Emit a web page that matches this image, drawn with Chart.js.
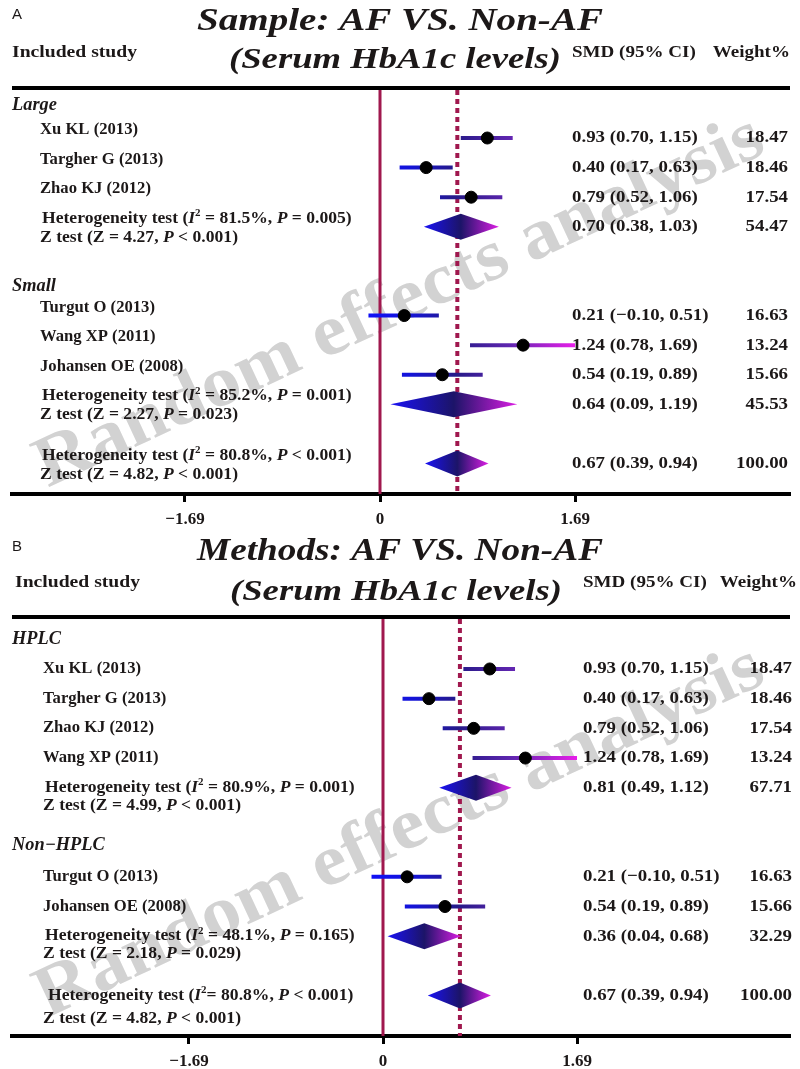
<!DOCTYPE html>
<html>
<head>
<meta charset="utf-8">
<script src="https://cdn.jsdelivr.net/npm/chart.js@4.4.0/dist/chart.umd.min.js"></script>
<style>
  html, body { margin: 0; padding: 0; background: #fff; }
  canvas { display: block; }
</style>
</head>
<body>
<canvas id="plotA" width="800" height="530"></canvas>
<canvas id="plotB" width="800" height="539"></canvas>
<script>
// ---------- panel A : by sample size ----------
const aStudies = ['Xu KL (2013)', 'Targher G (2013)', 'Zhao KJ (2012)', 'Turgut O (2013)', 'Wang XP (2011)', 'Johansen OE (2008)'];
const aSmd = [0.93, 0.40, 0.79, 0.21, 1.24, 0.54];
const aLow = [0.70, 0.17, 0.52, -0.10, 0.78, 0.19];
const aHigh = [1.15, 0.63, 1.06, 0.51, 1.69, 0.89];
const aWeight = [18.47, 18.46, 17.54, 16.63, 13.24, 15.66];
const aRows = [1, 2, 3, 7, 8, 9];
const aGroups = ['Large', 'Small'];
const aGroupRows = [-0.1, 6];
const aPoolSmd = [0.70, 0.64, 0.67];
const aPoolLow = [0.38, 0.09, 0.39];
const aPoolHigh = [1.03, 1.19, 0.94];
const aPoolWeight = [54.47, 45.53, 100.00];
const aPoolRows = [4, 10, 12];
const aI2 = ['81.5%', '85.2%', '80.8%'];
const aHetP = ['= 0.005', '= 0.001', '< 0.001'];
const aZ = ['4.27', '2.27', '4.82'];
const aZP = ['< 0.001', '= 0.023', '< 0.001'];

// ---------- panel B : by method ----------
const bStudies = ['Xu KL (2013)', 'Targher G (2013)', 'Zhao KJ (2012)', 'Wang XP (2011)', 'Turgut O (2013)', 'Johansen OE (2008)'];
const bSmd = [0.93, 0.40, 0.79, 1.24, 0.21, 0.54];
const bLow = [0.70, 0.17, 0.52, 0.78, -0.10, 0.19];
const bHigh = [1.15, 0.63, 1.06, 1.69, 0.51, 0.89];
const bWeight = [18.47, 18.46, 17.54, 13.24, 16.63, 15.66];
const bRows = [1, 2, 3, 4, 8, 9];
const bGroups = ['HPLC', 'Non\u2212HPLC'];
const bGroupRows = [0, 6.95];
const bPoolSmd = [0.81, 0.36, 0.67];
const bPoolLow = [0.49, 0.04, 0.39];
const bPoolHigh = [1.12, 0.68, 0.94];
const bPoolWeight = [67.71, 32.29, 100.00];
const bPoolRows = [5, 10, 12];
const bI2 = ['80.9%', '48.1%', '80.8%'];
const bHetP = ['= 0.001', '= 0.165', '< 0.001'];
const bZ = ['4.99', '2.18', '4.82'];
const bZP = ['< 0.001', '= 0.029', '< 0.001'];

const tickVals = [-1.69, 0, 1.69];

const SERIF = '"Liberation Serif", "Times New Roman", serif';
const INK = '#1c1818';
const RED = '#a0184e';

function fmt(v) {
  return (v < 0 ? '\u2212' : '') + Math.abs(v).toFixed(2);
}

// text with a horizontal stretch (the original face is wider than Times)
function st(ctx, s, x, y, font, sx, align) {
  ctx.font = font;
  ctx.save();
  ctx.translate(x, y);
  ctx.scale(sx, 1);
  ctx.textAlign = align || 'left';
  ctx.fillText(s, 0, 0);
  ctx.restore();
}

function drawFit(ctx, s, x, y, font, targetW, align) {
  ctx.font = font;
  const w = ctx.measureText(s).width;
  st(ctx, s, x, y, font, targetW ? targetW / w : 1, align);
}

// line made of bold / bold italic / superscript pieces
function rich(ctx, parts, x, y, size, sx) {
  let cx = x;
  parts.forEach(p => {
    let f = 'bold ' + size + 'px ' + SERIF;
    let dy = 0;
    if (p[1] === 'bi') f = 'italic bold ' + size + 'px ' + SERIF;
    if (p[1] === 'sup') { f = 'bold ' + Math.round(size * 0.6) + 'px ' + SERIF; dy = -size * 0.32; }
    st(ctx, p[0], cx, y + dy, f, sx, 'left');
    ctx.font = f;
    cx += ctx.measureText(p[0]).width * sx;
  });
}

function barColor(c) {
  const ch = c.chart;
  if (!ch.chartArea) return '#261a86';
  const x0 = ch.scales.x.getPixelForValue(-0.1);
  const x1 = ch.scales.x.getPixelForValue(1.7);
  const g = ch.ctx.createLinearGradient(x0, 0, x1, 0);
  g.addColorStop(0, '#1010f6');
  g.addColorStop(0.2, '#1414d8');
  g.addColorStop(0.42, '#261a88');
  g.addColorStop(0.68, '#6026b0');
  g.addColorStop(1, '#ea1eea');
  return g;
}

function makePanel(id, d, L) {
  const datasets = [];
  d.smd.forEach((v, i) => {
    datasets.push({
      type: 'line',
      data: [{ x: d.low[i], y: d.rows[i] }, { x: d.high[i], y: d.rows[i] }],
      borderColor: barColor,
      borderWidth: 4,
      pointRadius: 0,
      order: 2
    });
  });
  datasets.push({
    type: 'scatter',
    data: d.smd.map((v, i) => ({ x: v, y: d.rows[i] })),
    backgroundColor: '#000',
    borderColor: '#000',
    pointRadius: 6,
    order: 1
  });

  const BODY = 'bold 16px ' + SERIF;
  const NUM = 'bold 17px ' + SERIF;

  const forestText = {
    id: 'forestText',
    beforeDatasetsDraw(chart) {
      const { ctx, chartArea, scales } = chart;
      ctx.save();
      // watermark underneath everything
      ctx.save();
      ctx.translate(400, L.wmY);
      ctx.rotate(-25 * Math.PI / 180);
      ctx.fillStyle = '#d2d2d2';
      ctx.textBaseline = 'middle';
      drawFit(ctx, 'Random effects analysis', 0, 0, 'bold 72px ' + SERIF, 795, 'center');
      ctx.restore();

      // null line
      const x0 = scales.x.getPixelForValue(0);
      ctx.strokeStyle = RED;
      ctx.lineWidth = 3;
      ctx.beginPath();
      ctx.moveTo(x0, chartArea.top);
      ctx.lineTo(x0, chartArea.bottom);
      ctx.stroke();
      // overall effect line
      const xo = scales.x.getPixelForValue(d.poolSmd[d.poolSmd.length - 1]);
      ctx.lineWidth = 4;
      ctx.setLineDash([5, 4]);
      ctx.beginPath();
      ctx.moveTo(xo, chartArea.top + 2);
      ctx.lineTo(xo, chartArea.bottom);
      ctx.stroke();
      ctx.setLineDash([]);
      // header rule
      ctx.strokeStyle = '#000';
      ctx.lineWidth = 4;
      ctx.beginPath();
      ctx.moveTo(chartArea.left, chartArea.top);
      ctx.lineTo(chartArea.right, chartArea.top);
      ctx.stroke();
      ctx.restore();
    },
    afterDatasetsDraw(chart) {
      const { ctx, scales } = chart;
      const x = scales.x, y = scales.y;
      ctx.save();
      // pooled diamonds
      d.poolSmd.forEach((v, i) => {
        const xl = x.getPixelForValue(d.poolLow[i]);
        const xm = x.getPixelForValue(v);
        const xr = x.getPixelForValue(d.poolHigh[i]);
        const yc = y.getPixelForValue(d.poolRows[i]);
        const g = ctx.createLinearGradient(xl, 0, xr, 0);
        g.addColorStop(0, '#1a12f4');
        g.addColorStop((xm - xl) / (xr - xl), '#1c1468');
        g.addColorStop(1, '#dc1ee4');
        ctx.fillStyle = g;
        ctx.beginPath();
        ctx.moveTo(xl, yc);
        ctx.lineTo(xm, yc - 13);
        ctx.lineTo(xr, yc);
        ctx.lineTo(xm, yc + 13);
        ctx.closePath();
        ctx.fill();
      });

      ctx.fillStyle = INK;
      ctx.textBaseline = 'middle';
      // panel letter
      st(ctx, L.letter, 12, L.letterY, '15px "Liberation Sans", Arial, sans-serif', 1, 'left');
      // titles
      drawFit(ctx, L.title, 400, L.titleY, 'italic bold 31px ' + SERIF, 406, 'center');
      drawFit(ctx, '(Serum HbA1c levels)', L.subX, L.subY, 'italic bold 29px ' + SERIF, 332, 'center');
      // column headers
      drawFit(ctx, 'Included study', L.headX, L.headY, 'bold 17px ' + SERIF, 125, 'left');
      st(ctx, 'SMD (95% CI)', L.smdHeadX, L.headY, NUM, 1.12, 'left');
      st(ctx, 'Weight%', L.wHeadRight, L.headY, NUM, 1.12, 'right');

      // subgroup headings
      d.groups.forEach((gname, i) => {
        st(ctx, gname, 12, y.getPixelForValue(d.groupRows[i]), 'italic bold 18px ' + SERIF, 1.02, 'left');
      });
      // studies
      d.studies.forEach((s, i) => {
        const yy = y.getPixelForValue(d.rows[i]);
        st(ctx, s, L.nameX, yy + L.nameDy, BODY, 1.04, 'left');
        st(ctx, fmt(d.smd[i]) + ' (' + fmt(d.low[i]) + ', ' + fmt(d.high[i]) + ')', L.smdX, yy, NUM, 1.11, 'left');
        st(ctx, d.weight[i].toFixed(2), L.wRight, yy, NUM, 1.11, 'right');
      });
      // pooled rows
      d.poolSmd.forEach((v, i) => {
        const yy = y.getPixelForValue(d.poolRows[i]);
        const last = i === d.poolSmd.length - 1;
        const eq = (last && L.letter === 'B') ? '= ' : ' = ';
        rich(ctx, [['Heterogeneity test (', 'b'], ['I', 'bi'], ['2', 'sup'], [eq + d.i2[i] + ', ', 'b'], ['P', 'bi'], [' ' + d.hetP[i] + ')', 'b']],
          L.hetX + (last ? L.lastShift : 0), yy + L.hetDy, 16, 1.1);
        rich(ctx, [['Z test (Z = ' + d.z[i] + ', ', 'b'], ['P', 'bi'], [' ' + d.zP[i] + ')', 'b']],
          L.zX, yy + (last ? L.zDyLast : L.zDy), 16, 1.1);
        st(ctx, fmt(v) + ' (' + fmt(d.poolLow[i]) + ', ' + fmt(d.poolHigh[i]) + ')', L.smdX, yy, NUM, 1.11, 'left');
        st(ctx, d.poolWeight[i].toFixed(2), L.wRight, yy, NUM, 1.11, 'right');
      });
      ctx.restore();
    }
  };

  return new Chart(document.getElementById(id), {
    type: 'scatter',
    data: { datasets },
    options: {
      responsive: false,
      animation: false,
      layout: { padding: { left: 12, right: 10, top: L.topY, bottom: 0 } },
      plugins: { legend: { display: false }, tooltip: { enabled: false } },
      scales: {
        x: {
          type: 'linear',
          min: -(L.zeroX - 12) / L.unitPx,
          max: (790 - L.zeroX) / L.unitPx,
          afterBuildTicks: s => { s.ticks = tickVals.map(v => ({ value: v })); },
          afterFit: s => { s.height = L.H - L.axisY; },
          ticks: {
            callback: v => (v === 0 ? '0' : fmt(v)),
            font: { family: SERIF, size: 17, weight: 'bold' },
            color: INK,
            padding: 7,
            maxRotation: 0,
            autoSkip: false
          },
          grid: { drawOnChartArea: false, drawTicks: true, tickLength: 8, tickWidth: 3, tickColor: '#000' },
          border: { display: true, color: '#000', width: 4 }
        },
        y: {
          type: 'linear',
          display: false,
          reverse: true,
          min: L.yMin,
          max: L.yMax
        }
      }
    },
    plugins: [forestText]
  });
}

makePanel('plotA', {
  studies: aStudies, smd: aSmd, low: aLow, high: aHigh, weight: aWeight, rows: aRows,
  groups: aGroups, groupRows: aGroupRows,
  poolSmd: aPoolSmd, poolLow: aPoolLow, poolHigh: aPoolHigh, poolWeight: aPoolWeight, poolRows: aPoolRows,
  i2: aI2, hetP: aHetP, z: aZ, zP: aZP
}, {
  letter: 'A', letterY: 15, title: 'Sample: AF VS. Non-AF', titleY: 22, subX: 395, subY: 61,
  headX: 12, headY: 53, smdHeadX: 572, wHeadRight: 790,
  H: 530, topY: 88, axisY: 494, zeroX: 380, unitPx: 115.4, yMin: -0.69, yMax: 13.03,
  nameX: 40, nameDy: -8, hetX: 42, hetDy: -8, zX: 40, zDy: 11, zDyLast: 11, lastShift: 0,
  smdX: 572, wRight: 788, wmY: 303
});

makePanel('plotB', {
  studies: bStudies, smd: bSmd, low: bLow, high: bHigh, weight: bWeight, rows: bRows,
  groups: bGroups, groupRows: bGroupRows,
  poolSmd: bPoolSmd, poolLow: bPoolLow, poolHigh: bPoolHigh, poolWeight: bPoolWeight, poolRows: bPoolRows,
  i2: bI2, hetP: bHetP, z: bZ, zP: bZP
}, {
  letter: 'B', letterY: 17, title: 'Methods: AF VS. Non-AF', titleY: 22, subX: 396, subY: 63,
  headX: 15, headY: 53, smdHeadX: 583, wHeadRight: 797,
  H: 539, topY: 87, axisY: 506, zeroX: 383, unitPx: 114.8, yMin: -0.75, yMax: 13.36,
  nameX: 43, nameDy: 0, hetX: 45, hetDy: 0, zX: 43, zDy: 18, zDyLast: 23, lastShift: 3,
  smdX: 583, wRight: 792, wmY: 303
});
</script>
</body>
</html>
